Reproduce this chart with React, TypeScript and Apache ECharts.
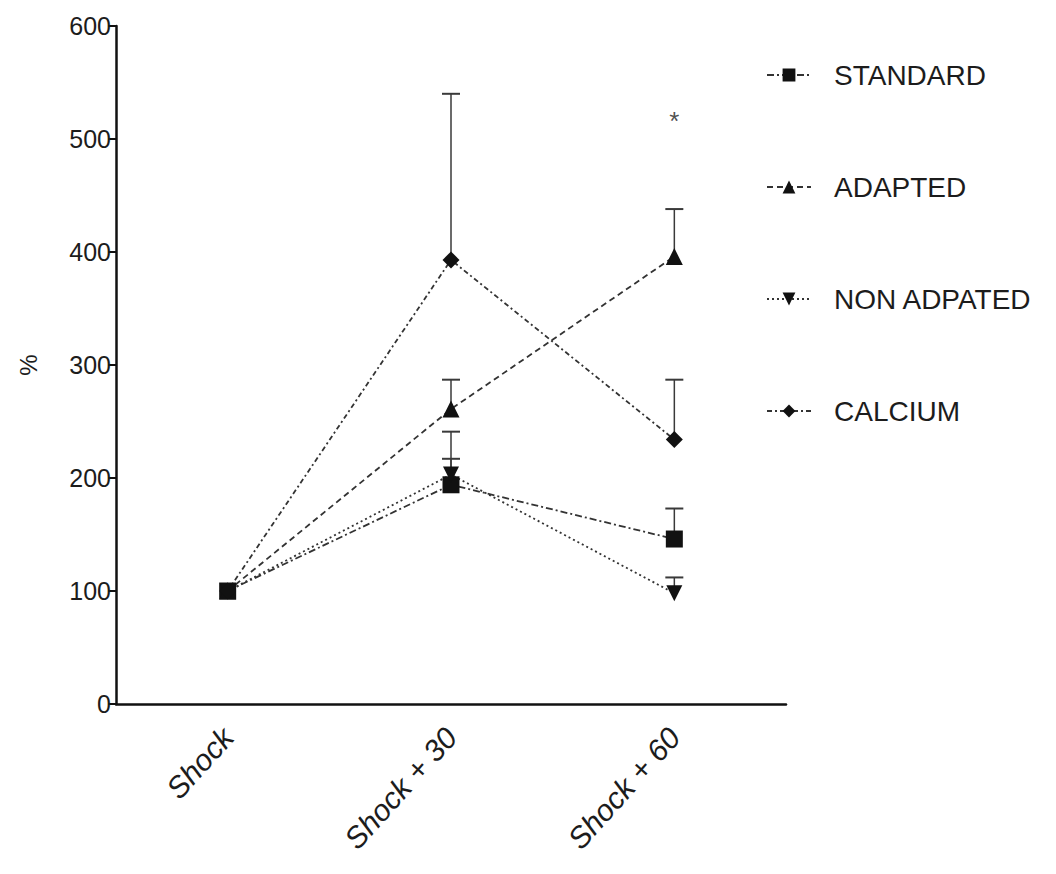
import React, { useEffect, useRef } from "react";
import * as echarts from "echarts";

const categories = ["Shock", "Shock + 30", "Shock + 60"];
const yTicks = [0, 100, 200, 300, 400, 500, 600];

const standard = [100, 194, 146];
const standardErr = [0, 47, 27];
const adapted = [100, 261, 396];
const adaptedErr = [0, 26, 42];
const nonAdapted = [100, 203, 98];
const nonAdaptedErr = [0, 14, 14];
const calcium = [100, 393, 234];
const calciumErr = [0, 147, 53];

const starMarks = [[2, 516]];

const FONT = "'Liberation Sans', Arial, sans-serif";
const INK = "#1c1c1c";

function errData(vals: number[], errs: number[]) {
  return vals.map((v, i) => [i, v, errs[i]]);
}

const errRender = (params: any, api: any) => {
  const x = api.value(0);
  const y = api.value(1);
  const e = api.value(2);
  if (!e) return null;
  const p0 = api.coord([x, y]);
  const p1 = api.coord([x, y + e]);
  const st = { stroke: "#3a3a3a", lineWidth: 1.5 };
  return {
    type: "group",
    children: [
      { type: "line", shape: { x1: p0[0], y1: p0[1], x2: p1[0], y2: p1[1] }, style: st },
      { type: "line", shape: { x1: p1[0] - 9, y1: p1[1], x2: p1[0] + 9, y2: p1[1] }, style: { stroke: "#3a3a3a", lineWidth: 2 } },
    ],
  };
};

export default function App() {
  const ref = useRef<HTMLDivElement>(null);
  useEffect(() => {
    if (!ref.current) return;
    const chart = echarts.init(ref.current, null, { renderer: "svg" });
    const lineSeries = (name: string, data: number[], symbol: string, size: number, dash: number[]) => ({
      name,
      type: "line",
      data,
      symbol,
      symbolSize: size,
      z: 3,
      itemStyle: { color: "#111" },
      lineStyle: { color: "#333", width: 1.8, type: dash },
    });
    chart.setOption({
      animation: false,
      backgroundColor: "#fff",
      grid: { left: 100, right: 262, top: 18, bottom: 162, containLabel: false },
      xAxis: {
        type: "category",
        data: categories,
        boundaryGap: true,
        axisLine: { lineStyle: { color: "#111", width: 2.5 } },
        axisTick: { alignWithLabel: true, length: 8, lineStyle: { color: "#111", width: 2 } },
        axisLabel: {
          rotate: 48,
          margin: 28,
          color: INK,
          fontFamily: FONT,
          fontStyle: "italic",
          fontSize: 30,
        },
        splitLine: { show: false },
      },
      yAxis: {
        type: "value",
        min: 0,
        max: 600,
        interval: 100,
        name: "%",
        nameLocation: "middle",
        nameGap: 76,
        nameTextStyle: { color: INK, fontFamily: FONT, fontSize: 24 },
        axisLine: { show: true, lineStyle: { color: "#111", width: 2.5 } },
        axisTick: { show: true, length: 8, lineStyle: { color: "#111", width: 2 } },
        axisLabel: {
          margin: 5,
          color: INK,
          fontFamily: FONT,
          fontSize: 25,
          formatter: (v: number) => (yTicks.includes(v) ? String(v) : ""),
        },
        splitLine: { show: false },
      },
      legend: {
        orient: "vertical",
        left: 753,
        top: 46,
        itemGap: 80,
        itemWidth: 44,
        itemHeight: 16,
        data: ["STANDARD", "ADAPTED", "NON ADPATED", "CALCIUM"],
        textStyle: { color: INK, fontFamily: FONT, fontSize: 28, lineHeight: 32, padding: [0, 0, 0, 18] },
      },
      series: [
        { type: "custom", name: "errS", renderItem: errRender, data: errData(standard, standardErr), z: 2 },
        { type: "custom", name: "errA", renderItem: errRender, data: errData(adapted, adaptedErr), z: 2 },
        { type: "custom", name: "errN", renderItem: errRender, data: errData(nonAdapted, nonAdaptedErr), z: 2 },
        { type: "custom", name: "errC", renderItem: errRender, data: errData(calcium, calciumErr), z: 2 },
        lineSeries("STANDARD", standard, "rect", 17, [7, 3, 2, 3]),
        lineSeries("ADAPTED", adapted, "triangle", 17, [6, 4]),
        lineSeries("NON ADPATED", nonAdapted, "path://M0,0 L10,0 L5,10 Z", 16, [2, 3]),
        lineSeries("CALCIUM", calcium, "diamond", 17, [5, 3, 2, 3]),
        {
          type: "scatter",
          name: "sig",
          data: starMarks,
          symbolSize: 1,
          itemStyle: { color: "transparent" },
          label: { show: true, position: "inside", formatter: "*", color: "#222", fontFamily: FONT, fontSize: 26 },
        },
      ],
    });
    return () => chart.dispose();
  }, []);
  return <div ref={ref} style={{ width: 1040, height: 858 }} />;
}
